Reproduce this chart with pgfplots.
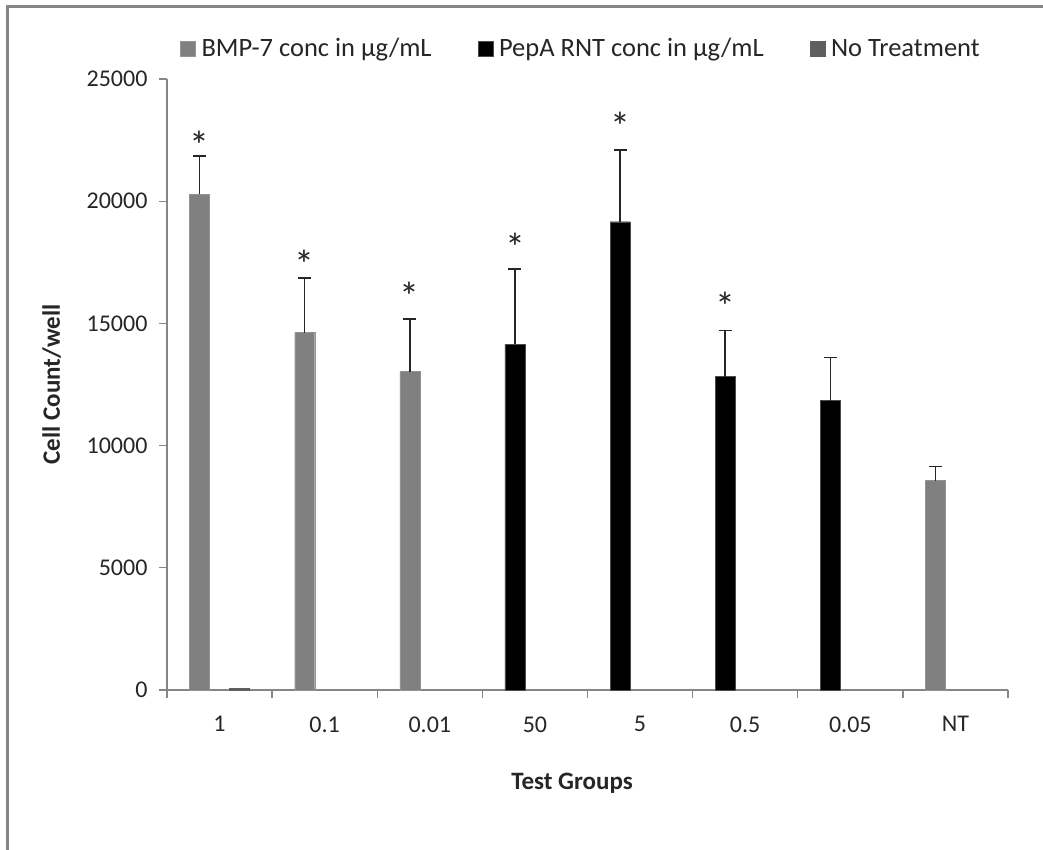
\documentclass[border=0pt]{standalone}
\usepackage{fontspec}
\setmainfont{Carlito}
\usepackage{pgfplots}
\pgfplotsset{compat=1.18}
\definecolor{bargray}{HTML}{808080}
\definecolor{ntgray}{HTML}{5F5F5F}
\definecolor{axgray}{HTML}{868686}
\definecolor{txt}{HTML}{262626}
\begin{document}
\begin{tikzpicture}[x=1pt,y=1pt]
\useasboundingbox (0,0) rectangle (1043,850);
\draw[color=axgray, line width=3pt] (7,0) -- (7,843) -- (1043,843);
\begin{axis}[
  at={(167pt,160pt)}, anchor=south west,
  scale only axis, width=841pt, height=611pt,
  xmin=-0.5, xmax=7.5, ymin=0, ymax=25000,
  axis x line*=bottom, axis y line*=left,
  axis line style={axgray, line width=1.3pt},
  xtick={0,...,7}, xticklabels={1,0.1,0.01,50,5,0.5,0.05,NT},
  minor xtick={-0.5,0.5,...,7.5},
  major x tick style={draw=none},
  minor x tick style={axgray, line width=1.3pt},
  ytick={0,5000,...,25000},
  ytick style={axgray, line width=1.3pt},
  tick align=outside, major tick length=8pt, minor tick length=8pt,
  scaled ticks=false,
  /pgf/number format/assume math mode=true,
  /pgf/number format/1000 sep={},
  ticklabel style={font=\fontsize{24}{28}\selectfont, text=txt},
  xticklabel style={yshift=-15pt},
  yticklabel style={xshift=-8pt},
  xlabel={\textbf{Test Groups}},
  ylabel={\textbf{Cell Count/well}},
  xlabel style={at={(axis description cs:0.4816,-0.152)}, anchor=center, font=\fontsize{25}{30}\selectfont, text=txt},
  ylabel style={at={(axis description cs:-0.137,0.5)}, anchor=center, font=\fontsize{25}{30}\selectfont, text=txt},
  legend style={at={(0.491,1.05)}, anchor=center, draw=none, fill=none,
    legend columns=3, font=\fontsize{26.5}{30}\selectfont, text=txt,
    /tikz/every odd column/.append style={column sep=6pt},
    /tikz/every even column/.append style={column sep=46pt},
    nodes={inner sep=0pt}},
  legend image code/.code={\fill[#1] (0pt,-7.5pt) rectangle (15pt,7.5pt);},
  clip=false,
]
\addplot[ybar, bar width=20pt, bar shift=0pt, fill=bargray, draw=bargray!85,
  error bars/.cd, y dir=plus, y explicit, error mark=|,
  error bar style={line width=1.5pt, txt},
  error mark options={mark size=6.5pt, line width=1.5pt, txt}]
  coordinates {(-0.19,20280) +- (0,1570) (0.81,14620) +- (0,2240) (1.81,13025) +- (0,2155) (6.81,8565) +- (0,572)};
\addlegendentry{BMP-7 conc in µg/mL}
\addplot[ybar, bar width=20pt, bar shift=0pt, fill=black, draw=black!70,
  error bars/.cd, y dir=plus, y explicit, error mark=|,
  error bar style={line width=1.5pt, txt},
  error mark options={mark size=6.5pt, line width=1.5pt, txt}]
  coordinates {(2.81,14145) +- (0,3080) (3.81,19160) +- (0,2935) (4.81,12820) +- (0,1880) (5.81,11837) +- (0,1760)};
\addlegendentry{PepA RNT conc in µg/mL}
\addplot[ybar, bar width=20pt, bar shift=0pt, fill=ntgray, draw=ntgray]
  coordinates {(0.19,60)};
\addlegendentry{No Treatment}
\addplot[forget plot, only marks, mark=none, nodes near coords={*},
  every node near coord/.append style={anchor=base, inner sep=0pt, font=\fontsize{40}{40}\selectfont, text=txt}]
  coordinates {(-0.19,21688) (0.81,16818) (1.81,15508) (2.81,17513) (3.81,22463) (4.81,15098)};
\end{axis}
\end{tikzpicture}
\end{document}
